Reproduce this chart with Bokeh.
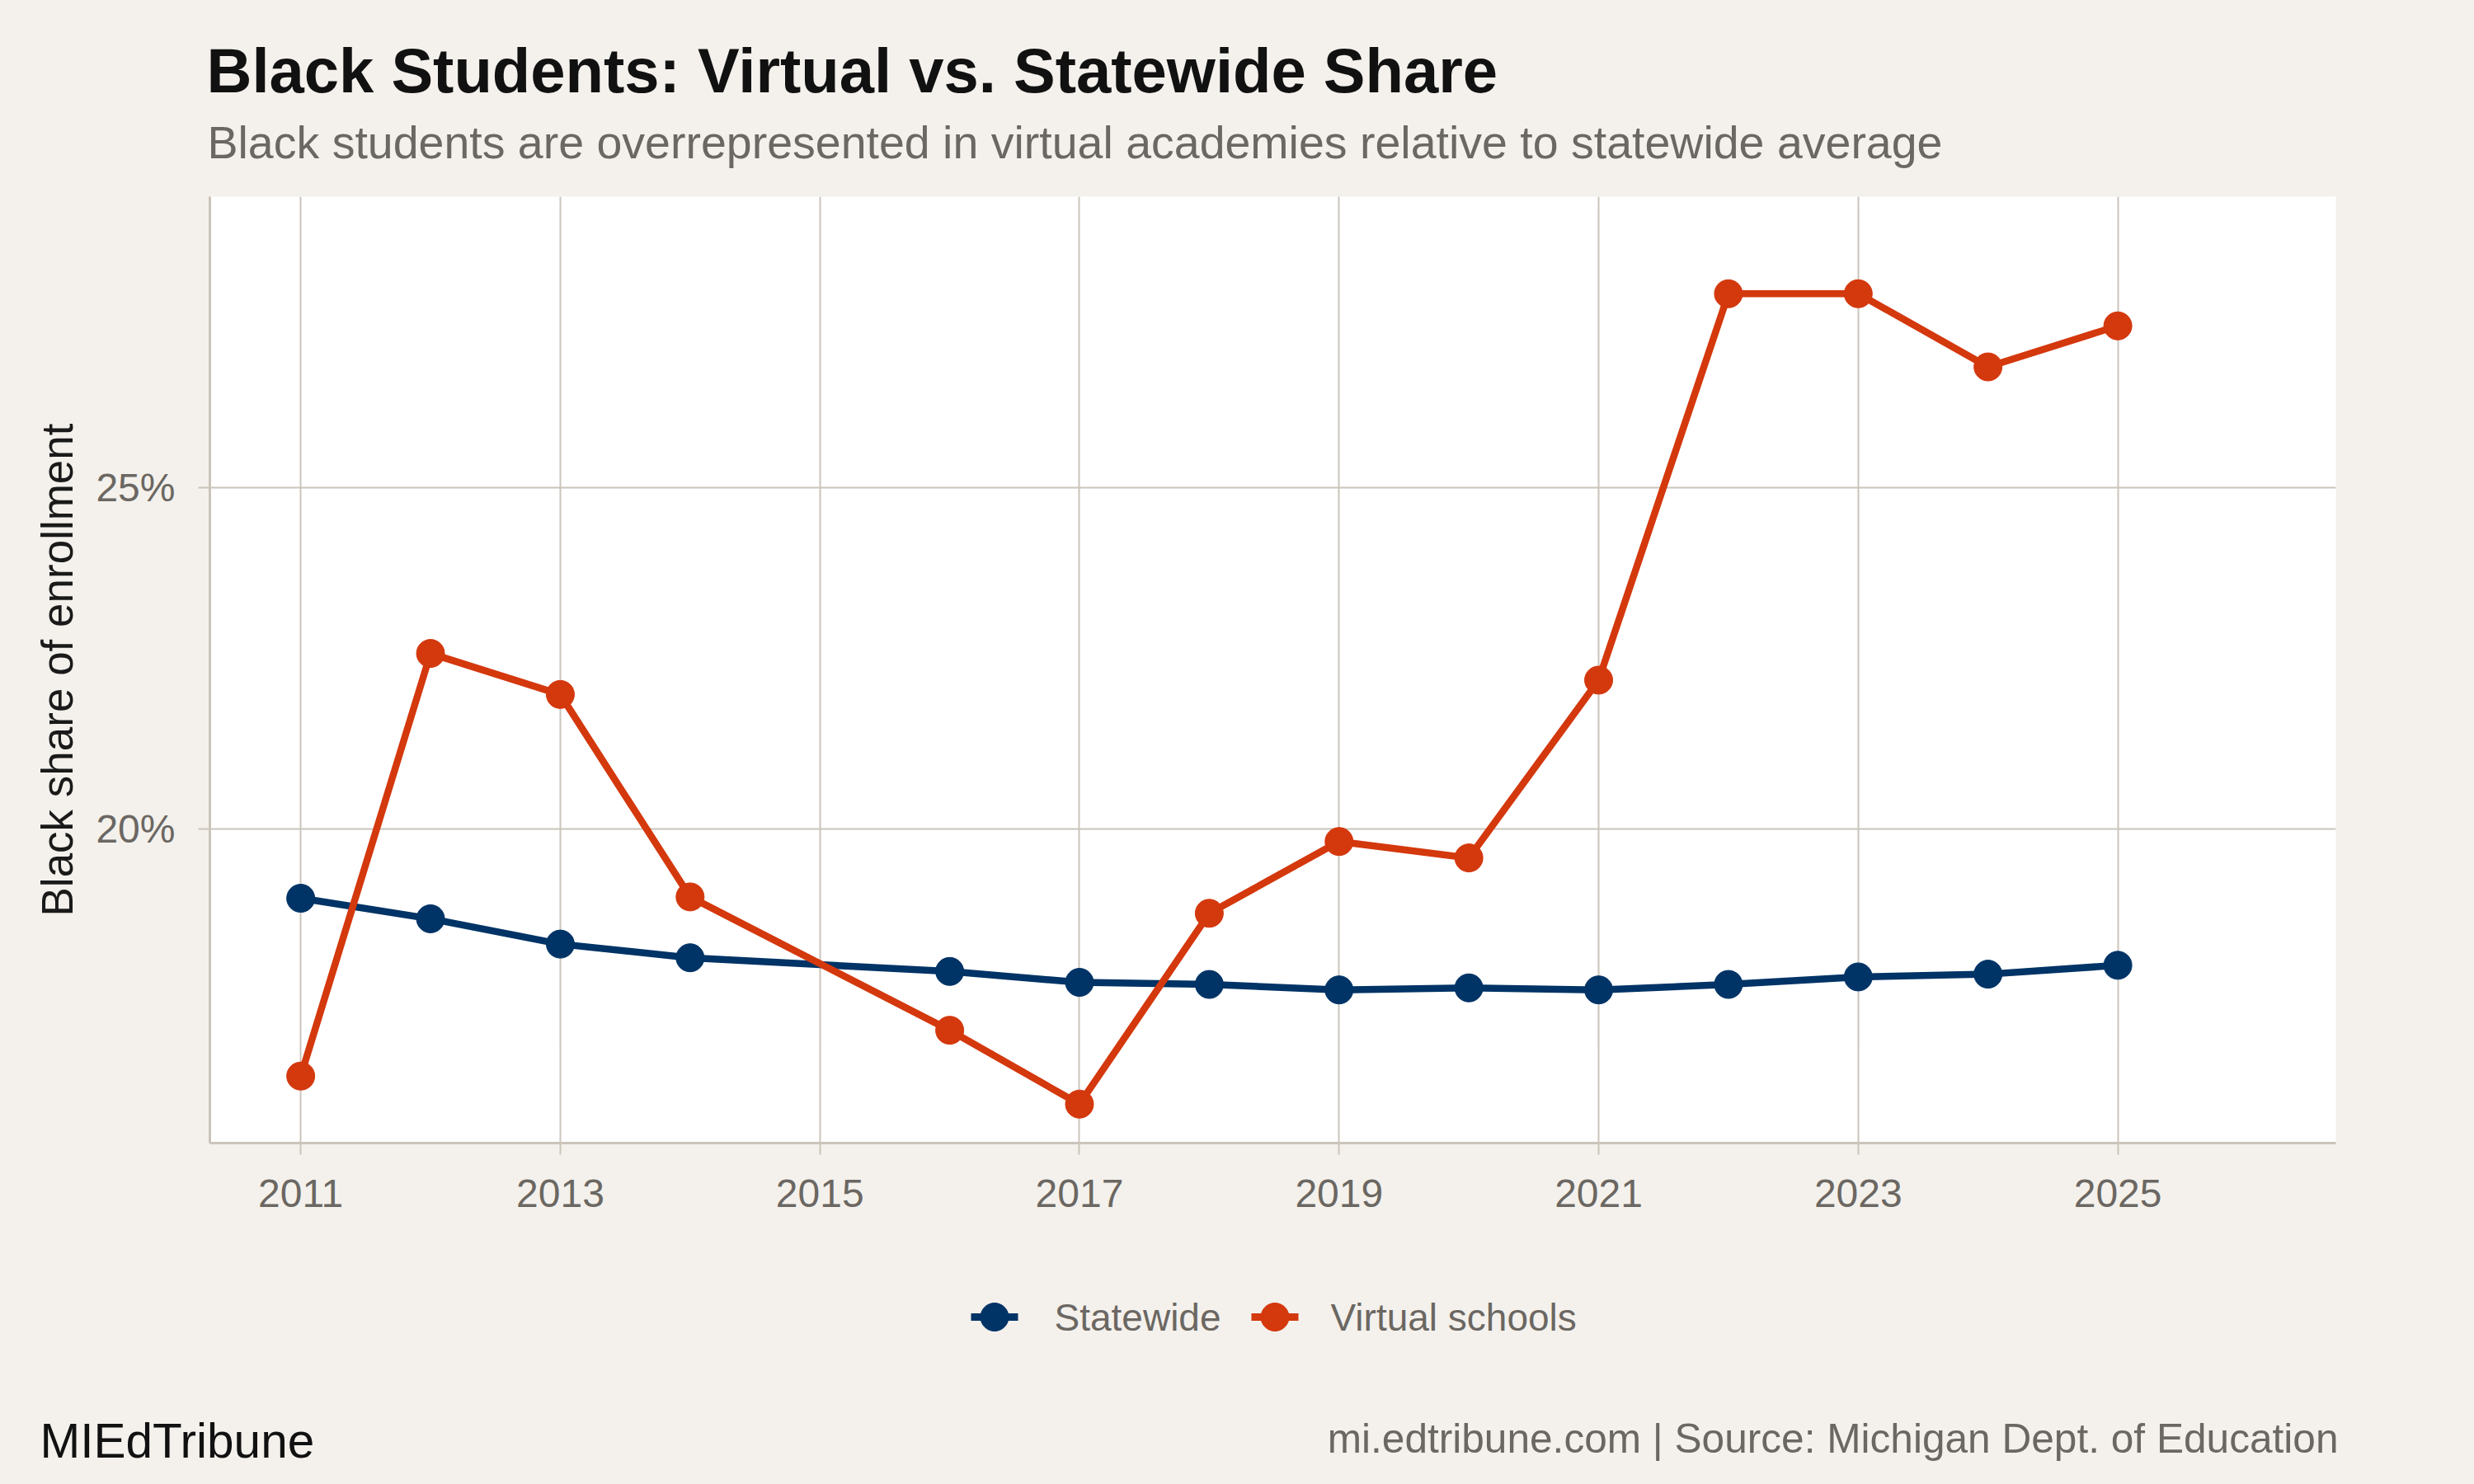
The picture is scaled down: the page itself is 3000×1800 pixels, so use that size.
from bokeh.plotting import figure
from bokeh.layouts import column
from bokeh.models import Range1d, FixedTicker, ColumnDataSource
from bokeh.core.properties import value
from bokeh.embed import file_html
from bokeh.resources import INLINE

# ---- data ----
years = [2011, 2012, 2013, 2014, 2016, 2017, 2018, 2019, 2020, 2021, 2022, 2023, 2024, 2025]
statewide = [18.99, 18.69, 18.32, 18.12, 17.92, 17.76, 17.73, 17.65, 17.68, 17.65, 17.73, 17.84, 17.88, 18.01]
virtual = [16.39, 22.57, 21.97, 19.01, 17.06, 15.98, 18.77, 19.82, 19.58, 22.18, 27.83, 27.83, 26.76, 27.36]
x_ticks = [2011, 2013, 2015, 2017, 2019, 2021, 2023, 2025]
y_ticks = [20, 25]
y_tick_labels = {20: "20%", 25: "25%"}
series_names = ["Statewide", "Virtual schools"]
title_text = "Black Students: Virtual vs. Statewide Share"
subtitle_text = "Black students are overrepresented in virtual academies relative to statewide average"
ylabel_text = "Black share of enrollment"
brand_text = "MIEdTribune"
source_text = "mi.edtribune.com | Source: Michigan Dept. of Education"

BG = "#F4F1EC"
GRID = "#CAC4BA"
GRAY = "#6B6762"
NAVY = "#003366"
ORANGE = "#D4380D"
FONT = "Liberation Sans"
colors = [NAVY, ORANGE]

W = 3000
TOP_H = 238          # title band
MAIN_H = 1302        # plot band (frame 238..1386 + x axis)
BOT_H = 1800 - TOP_H - MAIN_H
FL, FR = 254, 2832
FRAME_BOTTOM_PAD = MAIN_H - (1386 - TOP_H)
BASE_SHIFT = 0.35    # baseline compensation (fraction of font size)


def text_band(height):
    f = figure(width=W, height=height, output_backend="svg", toolbar_location=None,
               x_range=Range1d(0, W), y_range=Range1d(height, 0),
               x_axis_type=None, y_axis_type=None, frame_align=False,
               min_border=0, min_border_left=0, min_border_right=0,
               min_border_top=0, min_border_bottom=0)
    f.background_fill_color = BG
    f.border_fill_color = BG
    f.outline_line_color = None
    f.grid.visible = False
    return f


def put_text(fig, x, baseline, txt, size, color, bold=False, align="left"):
    fig.text(x=[x], y=[baseline - BASE_SHIFT * size], text=[txt], text_font=value(FONT),
             text_font_size=f"{size}px", text_font_style="bold" if bold else "normal",
             text_color=color, text_align=align, text_baseline="alphabetic")


# ---- title band ----
top = text_band(TOP_H)
put_text(top, 250, 112, title_text, 76, "#111111", bold=True)
put_text(top, 251, 192, subtitle_text, 55.5, GRAY)

# ---- main plot ----
p = figure(width=W, height=MAIN_H, output_backend="svg", toolbar_location=None,
           x_range=Range1d(2010.30, 2026.68), y_range=Range1d(15.41, 29.25),
           frame_align=False,
           min_border_left=FL, min_border_right=W - FR,
           min_border_top=0, min_border_bottom=FRAME_BOTTOM_PAD)
p.background_fill_color = "white"
p.border_fill_color = BG
p.outline_line_color = None

p.xgrid.ticker = FixedTicker(ticks=x_ticks)
p.ygrid.ticker = FixedTicker(ticks=y_ticks)
for g in (p.xgrid, p.ygrid):
    g.grid_line_color = GRID
    g.grid_line_width = 2

p.xaxis.ticker = FixedTicker(ticks=x_ticks)
p.yaxis.ticker = FixedTicker(ticks=y_ticks)
p.yaxis.major_label_overrides = y_tick_labels
for ax in (p.xaxis, p.yaxis):
    ax.axis_line_color = GRID
    ax.axis_line_width = 3
    ax.major_tick_line_color = GRID
    ax.major_tick_line_width = 2
    ax.major_tick_out = 14
    ax.major_tick_in = 0
    ax.minor_tick_line_color = None
    ax.major_label_text_font = FONT
    ax.major_label_text_font_size = "48px"
    ax.major_label_text_color = GRAY
p.xaxis.major_label_standoff = 30
p.yaxis.major_label_standoff = 28
p.yaxis.axis_label = ylabel_text
p.yaxis.axis_label_text_font = FONT
p.yaxis.axis_label_text_font_size = "53px"
p.yaxis.axis_label_text_font_style = "normal"
p.yaxis.axis_label_text_color = "#1A1A1A"
p.yaxis.axis_label_standoff = 14

src_s = ColumnDataSource(dict(x=years, y=statewide))
src_v = ColumnDataSource(dict(x=years, y=virtual))
p.line("x", "y", source=src_s, line_color=NAVY, line_width=8.5)
p.line("x", "y", source=src_v, line_color=ORANGE, line_width=8.5)
p.scatter("x", "y", source=src_s, size=34, fill_color=NAVY, line_color=NAVY)
p.scatter("x", "y", source=src_v, size=34, fill_color=ORANGE, line_color=ORANGE)

# ---- legend + footer band (pixel coordinates of this band) ----
bot = text_band(BOT_H)
leg_glyph_left = [1177, 1517]
leg_text_left = [1278, 1613]
leg_y = 57
leg_base = 74
for gx, tx, c, name in zip(leg_glyph_left, leg_text_left, colors, series_names):
    bot.line(x=[gx, gx + 57], y=[leg_y, leg_y], line_color=c, line_width=9)
    bot.scatter(x=[gx + 28.5], y=[leg_y], size=34, fill_color=c, line_color=c)
    put_text(bot, tx, leg_base, name, 46, GRAY)

put_text(bot, 48, 1767 - 1540, brand_text, 58.5, "#111111")
put_text(bot, 2835, 1762 - 1540, source_text, 49.6, GRAY, align="right")

layout = column(top, p, bot, spacing=0)
layout.styles = {"background-color": BG}
open("out.html", "w").write(file_html(layout, INLINE))
